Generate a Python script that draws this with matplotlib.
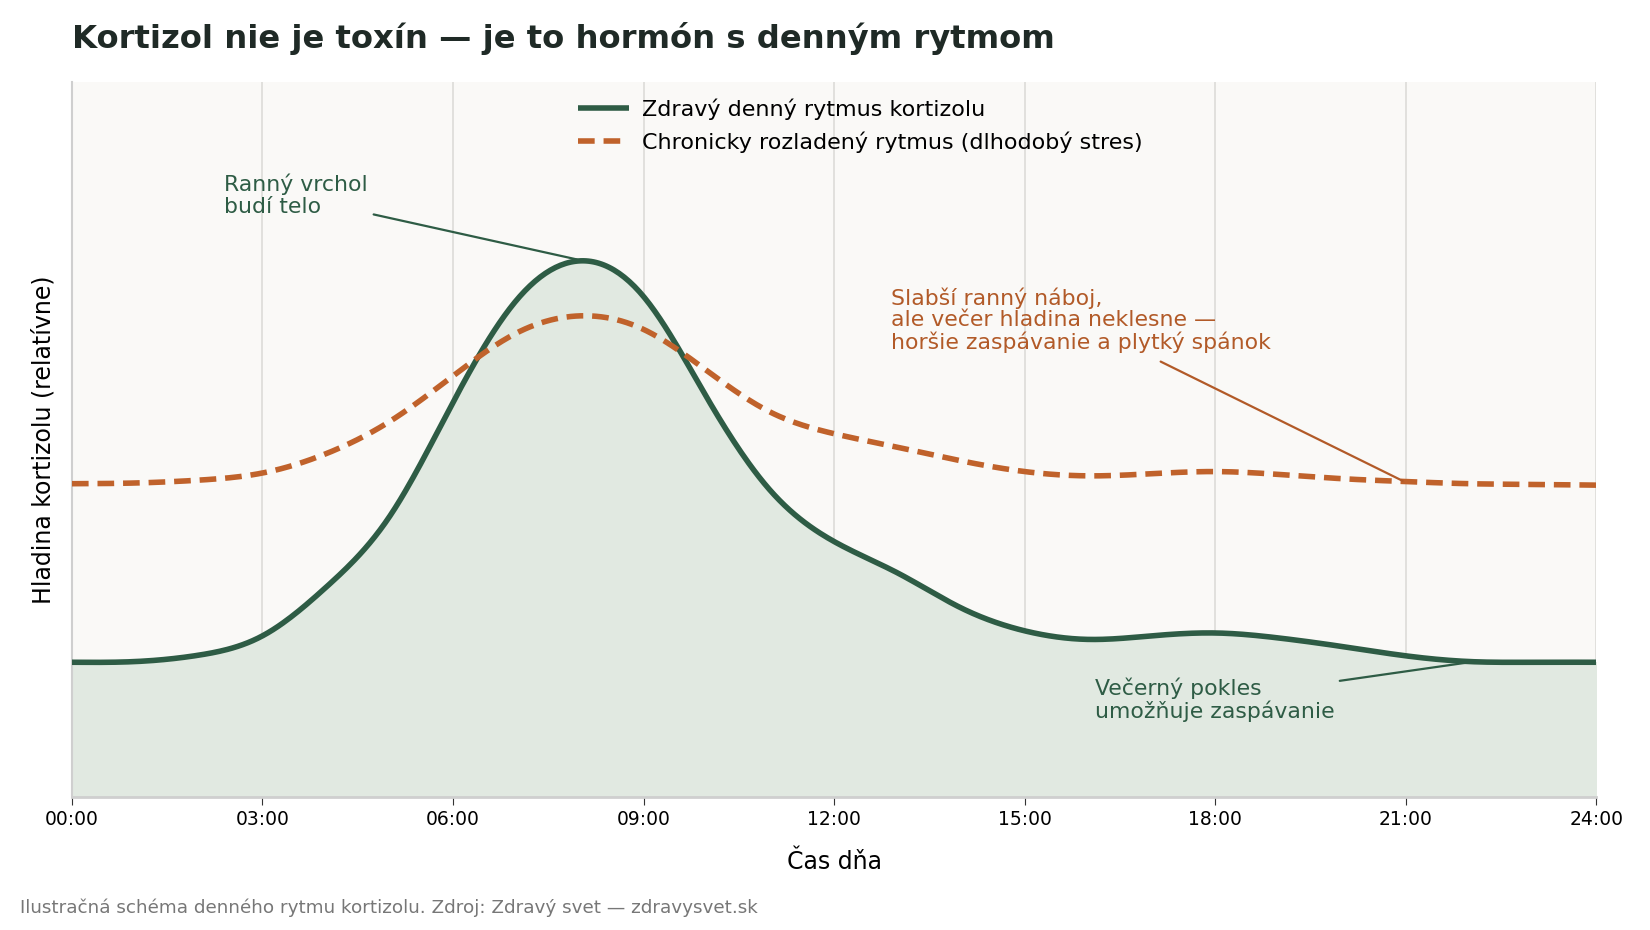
import numpy as np
import matplotlib.pyplot as plt

# hours of day and relative cortisol level
hours = [0, 1, 2, 3, 4, 5, 6, 7, 8, 9, 10, 11, 12,
         13, 14, 15, 16, 17, 18, 19, 20, 21, 22, 23, 24]
healthy = [0.188, 0.189, 0.198, 0.225, 0.293, 0.392, 0.552, 0.695, 0.750,
           0.700, 0.558, 0.428, 0.357, 0.313, 0.264, 0.232, 0.220, 0.225,
           0.229, 0.222, 0.210, 0.197, 0.189, 0.188, 0.188]
stressed = [0.438, 0.439, 0.443, 0.453, 0.480, 0.525, 0.589, 0.649, 0.673,
            0.654, 0.596, 0.538, 0.508, 0.489, 0.470, 0.455, 0.449, 0.452,
            0.455, 0.451, 0.445, 0.441, 0.438, 0.437, 0.436]
tick_hours = [0, 3, 6, 9, 12, 15, 18, 21, 24]
tick_labels = ["00:00", "03:00", "06:00", "09:00", "12:00",
               "15:00", "18:00", "21:00", "24:00"]

GREEN = "#2e5c45"
ORANGE = "#c0622b"
ORANGE_TXT = "#b25a28"


def spline(xs, ys, n=600):
    # natural cubic spline through the read points
    xs = np.asarray(xs, float); ys = np.asarray(ys, float)
    N = len(xs); h = np.diff(xs)
    A = np.zeros((N, N)); b = np.zeros(N)
    A[0, 0] = A[-1, -1] = 1
    for i in range(1, N - 1):
        A[i, i-1] = h[i-1]; A[i, i] = 2*(h[i-1] + h[i]); A[i, i+1] = h[i]
        b[i] = 6*((ys[i+1]-ys[i])/h[i] - (ys[i]-ys[i-1])/h[i-1])
    M = np.linalg.solve(A, b)
    xo = np.linspace(xs[0], xs[-1], n)
    i = np.clip(np.searchsorted(xs, xo, side="right") - 1, 0, N - 2)
    t0 = xs[i+1] - xo; t1 = xo - xs[i]; hi = h[i]
    yo = (M[i]*t0**3 + M[i+1]*t1**3)/(6*hi) \
        + (ys[i]/hi - M[i]*hi/6)*t0 + (ys[i+1]/hi - M[i+1]*hi/6)*t1
    return xo, yo


xh, yh = spline(hours, healthy)
xs_, ys_ = spline(hours, stressed)

fig = plt.figure(figsize=(16.5, 9.3), dpi=100)
ax = fig.add_axes([0.0436, 0.1435, 0.9239, 0.768])
ax.set_facecolor("#faf9f7")

ax.fill_between(xh, yh, 0, color="#e1e9e1", zorder=1)
ax.plot(xh, yh, color=GREEN, lw=4, label="Zdravý denný rytmus kortizolu",
        zorder=3, solid_capstyle="butt")
ax.plot(xs_, ys_, color=ORANGE, lw=4, ls=(0, (3, 1.6)),
        label="Chronicky rozladený rytmus (dlhodobý stres)", zorder=3)

ax.set_xlim(0, 24)
ax.set_ylim(0, 1.0)
ax.set_xticks(tick_hours)
ax.set_xticklabels(tick_labels, fontsize=13.5)
ax.set_yticks([])
ax.grid(axis="x", color="#dcdcd8", lw=1.2, zorder=0)
ax.set_axisbelow(True)
for s in ["top", "right"]:
    ax.spines[s].set_visible(False)
ax.spines["left"].set_color("#cfcfcf")
ax.spines["left"].set_linewidth(1.5)
ax.spines["bottom"].set_color("#cfcfcf")
ax.spines["bottom"].set_linewidth(2)
ax.tick_params(axis="x", length=6, color="#333333", pad=4)

ax.set_xlabel("Čas dňa", fontsize=17, labelpad=15)
ax.set_ylabel("Hladina kortizolu (relatívne)", fontsize=17, labelpad=12)

leg = ax.legend(loc="upper center", bbox_to_anchor=(0.517, 1.005), frameon=False,
                fontsize=16, handlelength=2.3, handletextpad=0.6,
                labelspacing=0.5)

# annotations
ANN = 15.8
LS = 1.08
ax.text(2.40, 0.812, "Ranný vrchol\nbudí telo", color=GREEN, fontsize=ANN,
        ha="left", va="bottom", linespacing=LS)
ax.annotate("", xy=(7.95, 0.752), xytext=(4.75, 0.815),
            arrowprops=dict(arrowstyle="-", color=GREEN, lw=1.6,
                            shrinkA=0, shrinkB=0))

ax.text(12.90, 0.621,
        "Slabší ranný náboj,\nale večer hladina neklesne —\nhoršie zaspávanie a plytký spánok",
        color=ORANGE_TXT, fontsize=ANN, ha="left", va="bottom", linespacing=LS)
ax.annotate("", xy=(20.95, 0.442), xytext=(17.14, 0.609),
            arrowprops=dict(arrowstyle="-", color=ORANGE_TXT, lw=1.6,
                            shrinkA=0, shrinkB=0))

ax.text(16.10, 0.104, "Večerný pokles\numožňuje zaspávanie", color=GREEN,
        fontsize=ANN, ha="left", va="bottom", linespacing=LS)
ax.annotate("", xy=(22.0, 0.188), xytext=(19.96, 0.162),
            arrowprops=dict(arrowstyle="-", color=GREEN, lw=1.6,
                            shrinkA=0, shrinkB=0))

fig.text(0.0436, 0.959, "Kortizol nie je toxín — je to hormón s denným rytmom",
         fontsize=23.2, fontweight="bold", color="#1f2a26", ha="left", va="center")
fig.text(0.012, 0.024,
         "Ilustračná schéma denného rytmu kortizolu. Zdroj: Zdravý svet — zdravysvet.sk",
         fontsize=13.2, color="#777777", ha="left", va="center")

fig.savefig("out.png", dpi=100, facecolor="white")
